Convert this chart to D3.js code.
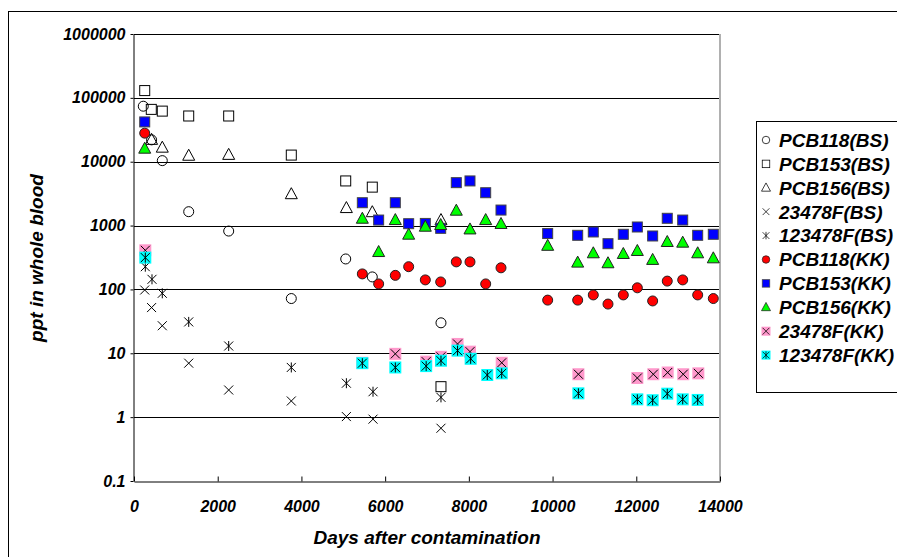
<!DOCTYPE html>
<html>
<head>
<meta charset="utf-8">
<style>
  body { margin: 0; background: #fff; }
  text { font-family: "Liberation Sans", Arial, sans-serif; font-weight: bold; font-style: italic; }
</style>
</head>
<body>
<svg id="chart" width="897" height="557"></svg>
<script src="https://d3js.org/d3.v7.min.js"></script>
<script>
// ---- data ----
var pcb118BSDays = [222, 420, 676, 1307, 2262, 3758, 5058, 5693, 7334];
var pcb118BS     = [74000, 22000, 10400, 1650, 820, 72, 300, 157, 30];

var pcb153BSDays = [256, 413, 676, 1307, 2262, 3758, 5058, 5693, 7334];
var pcb153BS     = [130000, 66000, 62000, 52000, 52000, 12700, 5000, 4000, 3.0];

var pcb156BSDays = [420, 676, 1307, 2262, 3758, 5074, 5693, 7334];
var pcb156BS     = [22000, 16600, 12400, 12800, 3100, 1880, 1620, 1220];

var f23478BSDays = [256, 420, 676, 1307, 2262, 3758, 5074, 5710, 7334];
var f23478BS     = [98, 52, 27, 7.0, 2.66, 1.79, 1.02, 0.93, 0.67];

var f123478BSDays = [270, 430, 676, 1307, 2262, 3758, 5074, 5710, 7334];
var f123478BS     = [227, 144, 87, 31, 13, 6.0, 3.4, 2.5, 2.04];

var kkDays = [256, 5455, 5845, 6243, 6562, 6960, 7327, 7700, 8027, 8402, 8768,
              9883, 10600, 10973, 11324, 11690, 12025, 12391, 12740, 13109, 13467, 13840];
var pcb118KK = [28000, 175, 122, 166, 227, 141, 131, 270, 270, 122, 218,
                68, 68, 82, 59, 82, 106, 66, 135, 141, 82, 72];
var pcb153KK = [42000, 2280, 1220, 2280, 1070, 1080, 905, 4700, 5000, 3270, 1750,
                750, 704, 794, 520, 730, 950, 687, 1300, 1220, 704, 730];
var pcb156KK = [16000, 1280, 385, 1220, 720, 960, 1020, 1710, 870, 1220, 1060,
                482, 263, 368, 257, 359, 400, 290, 553, 540, 368, 307];

var f23478KKDays = [270, 5455, 6243, 6980, 7334, 7730, 8027, 8785, 10617, 12025, 12407, 12750, 13122, 13482];
var f23478KK     = [410, 7.1, 9.8, 7.4, 8.8, 14, 10.6, 7.1, 4.7, 4.1, 4.7, 5.0, 4.7, 4.85];

var f123478KKDays = [270, 5455, 6243, 6980, 7334, 7730, 8043, 8440, 8785, 10617, 12025, 12391, 12740, 13109, 13467];
var f123478KK     = [315, 7.0, 6.0, 6.3, 7.65, 11, 8.2, 4.57, 4.85, 2.36, 1.9, 1.84, 2.33, 1.9, 1.86];

var xTicks = [0, 2000, 4000, 6000, 8000, 10000, 12000, 14000];
var yTicks = [0.1, 1, 10, 100, 1000, 10000, 100000, 1000000];

var series = [
  { name: "PCB118(BS)",   days: pcb118BSDays,  vals: pcb118BS,  shape: "circle",   fill: "none" },
  { name: "PCB153(BS)",   days: pcb153BSDays,  vals: pcb153BS,  shape: "square",   fill: "none" },
  { name: "PCB156(BS)",   days: pcb156BSDays,  vals: pcb156BS,  shape: "triangle", fill: "none" },
  { name: "23478F(BS)",   days: f23478BSDays,  vals: f23478BS,  shape: "x",        fill: "none" },
  { name: "123478F(BS)",  days: f123478BSDays, vals: f123478BS, shape: "star",     fill: "none" },
  { name: "PCB118(KK)",   days: kkDays,        vals: pcb118KK,  shape: "circle",   fill: "#ff0000" },
  { name: "PCB153(KK)",   days: kkDays,        vals: pcb153KK,  shape: "square",   fill: "#0000ff" },
  { name: "PCB156(KK)",   days: kkDays,        vals: pcb156KK,  shape: "triangle", fill: "#00ff00" },
  { name: "23478F(KK)",   days: f23478KKDays,  vals: f23478KK,  shape: "x",        fill: "#ff99cc" },
  { name: "123478F(KK)",  days: f123478KKDays, vals: f123478KK, shape: "star",     fill: "#00ffff" }
];

var svg = d3.select("#chart");

// outer chart frame (runs off the right/bottom edge)
svg.append("rect")
  .attr("x", 8.5).attr("y", 11.5)
  .attr("width", 900).attr("height", 560)
  .attr("fill", "none").attr("stroke", "#000");

var x = d3.scaleLinear().domain([0, 14000]).range([134, 720]);
var y = d3.scaleLog().domain([0.1, 1000000]).range([481, 34]);

// gridlines
svg.append("g")
  .selectAll("line")
  .data(yTicks.slice(1))
  .join("line")
  .attr("x1", x(0)).attr("x2", x(14000))
  .attr("y1", d => Math.round(y(d)) + 0.5).attr("y2", d => Math.round(y(d)) + 0.5)
  .attr("stroke", "#000");

// right frame of plot area
svg.append("line")
  .attr("x1", 720).attr("x2", 720).attr("y1", 34).attr("y2", 481)
  .attr("stroke", "#b0b0b0").attr("stroke-width", 2);

// axes
var fmt = function (d) { return d < 1 ? "0.1" : String(d); };
svg.append("g")
  .attr("transform", "translate(" + (x(0) - 0.5) + ",0)")
  .call(d3.axisLeft(y).tickValues(yTicks).tickFormat(fmt).tickSizeInner(3).tickSizeOuter(0).tickPadding(5))
  .call(g => g.selectAll("text").attr("font-size", 16).attr("fill", "#000")
    .style("font-family", "'Liberation Sans', Arial, sans-serif"))
  .call(g => g.selectAll("line,path").attr("stroke", "#000"));

svg.append("g")
  .attr("transform", "translate(0," + (y(0.1) + 0.5) + ")")
  .call(d3.axisBottom(x).tickValues(xTicks).tickFormat(d3.format("d")).tickSizeInner(-5).tickSizeOuter(0).tickPadding(19))
  .call(g => g.selectAll("text").attr("font-size", 16).attr("fill", "#000")
    .style("font-family", "'Liberation Sans', Arial, sans-serif"))
  .call(g => g.selectAll("line,path").attr("stroke", "#000"));

// axis titles
svg.append("text")
  .attr("x", 427).attr("y", 544)
  .attr("text-anchor", "middle").attr("font-size", 19)
  .text("Days after contamination");

svg.append("text")
  .attr("transform", "translate(43,258) rotate(-90)")
  .attr("text-anchor", "middle").attr("font-size", 19)
  .text("ppt in whole blood");

// marker drawing
function drawMarker(g, s) {
  var dark = s.fill === "none" ? "#000" : "#222";
  if (s.shape === "circle") {
    g.append("circle").attr("r", 5).attr("fill", s.fill).attr("stroke", dark);
  } else if (s.shape === "square") {
    g.append("rect").attr("x", -5).attr("y", -5).attr("width", 10).attr("height", 10)
      .attr("fill", s.fill).attr("stroke", s.fill === "none" ? "#000" : "#444");
  } else if (s.shape === "triangle") {
    g.append("path").attr("d", "M0,-6.5L6,4.5L-6,4.5Z").attr("fill", s.fill).attr("stroke", dark);
  } else {
    if (s.fill !== "none") {
      g.append("rect").attr("x", -6).attr("y", -6).attr("width", 12).attr("height", 12).attr("fill", s.fill);
    }
    var p = "M-4.5,-4.5L4.5,4.5M4.5,-4.5L-4.5,4.5";
    if (s.shape === "star") p += "M0,-5L0,5";
    g.append("path").attr("d", p).attr("stroke", "#000").attr("fill", "none");
  }
}

series.forEach(function (s) {
  var pts = s.days.map(function (d, i) { return [d, s.vals[i]]; });
  svg.append("g")
    .selectAll("g")
    .data(pts)
    .join("g")
    .attr("transform", d => "translate(" + x(d[0]) + "," + y(d[1]) + ")")
    .each(function () { drawMarker(d3.select(this), s); });
});

// legend
var legend = svg.append("g");
legend.append("rect")
  .attr("x", 756.5).attr("y", 121.5).attr("width", 160).attr("height", 271)
  .attr("fill", "#fff").attr("stroke", "#000");

var item = legend.selectAll("g.item")
  .data(series)
  .join("g")
  .attr("class", "item")
  .attr("transform", (d, i) => "translate(766," + (140 + i * 23.9) + ")");

item.each(function (s) {
  var g = d3.select(this).append("g").attr("transform", "scale(0.75)");
  drawMarker(g, s);
});
item.append("text")
  .attr("x", 13).attr("dy", "0.36em")
  .attr("font-size", 19)
  .text(d => d.name);
</script>
</body>
</html>
